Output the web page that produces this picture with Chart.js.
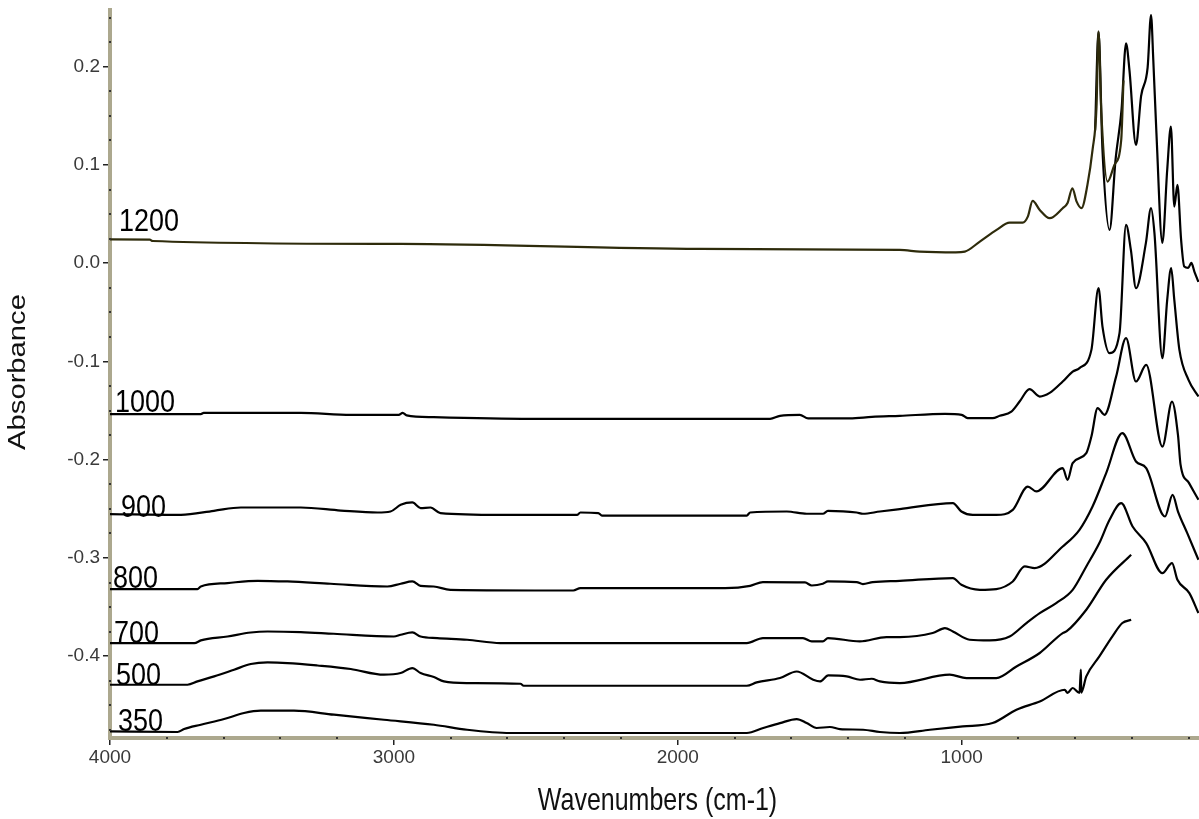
<!DOCTYPE html>
<html>
<head>
<meta charset="utf-8">
<title>IR spectra</title>
<script src="https://cdn.jsdelivr.net/npm/chart.js@4.4.1/dist/chart.umd.min.js"></script>
<style>
html,body{margin:0;padding:0;background:#fff}
#wrap{width:1199px;height:819px;position:relative}
</style>
</head>
<body>
<div id="wrap"><canvas id="ir"></canvas></div>
<script>

// spectra: wavenumber (cm-1) / absorbance
const seriesNames=["1200","1000","900","800","700","500","350"]

const wn1200=[4000,3860,3850,2976,1921,1218,1148,1021,989,936,877,831,785,767,750,725,690,644,627,610,595,578,557,539,525,518,508,486,462,438,430]
const ab1200=[0.0242,0.0240,0.0226,0.0196,0.0145,0.0135,0.0118,0.0110,0.0118,0.0220,0.0339,0.0413,0.0413,0.0474,0.0634,0.0542,0.0458,0.0560,0.0613,0.0763,0.0627,0.0560,0.0797,0.1153,0.1593,0.2356,0.1529,0.0830,0.1000,0.1254,0.1860]

// far-IR part of the 1200 sample, drawn over the end of the mid-IR trace
const wn1200far=[530,518,504,479,458,437,421,409,386,368,345,333,325,314,293,276,263,251,240,227,216,202,191,180,166]
const ab1200far=[0.135,0.2356,0.1153,0.0339,0.1052,0.1559,0.2238,0.1966,0.1203,0.170,0.199,0.2526,0.2068,0.1326,0.0207,0.0949,0.1390,0.0576,0.0797,0.0237,-0.0034,-0.0048,0.0003,-0.0088,-0.0190]

const wn1000=[4000,3680,3670,3328,3152,2983,2969,2955,2860,2519,1675,1640,1570,1541,1394,1316,1218,1059,1000,979,891,866,825,796,761,725,690,644,609,585,543,518,504,479,444,421,404,386,351,333,321,293,276,262,251,233,201,166]
const ab1000=[-0.1536,-0.1536,-0.1523,-0.1523,-0.1543,-0.1543,-0.1523,-0.1548,-0.1567,-0.1584,-0.1584,-0.1553,-0.1543,-0.1579,-0.1579,-0.1564,-0.1553,-0.1533,-0.1543,-0.1577,-0.1577,-0.1553,-0.1510,-0.1408,-0.1282,-0.1357,-0.1320,-0.1204,-0.1103,-0.1068,-0.0882,-0.0254,-0.0645,-0.0916,-0.0712,0.0390,0.0135,-0.0254,0.0207,0.0560,0.0308,-0.0966,-0.0373,-0.0051,-0.0373,-0.0882,-0.1187,-0.1357]

const wn900=[4000,3750,3634,3539,3328,3187,3058,3012,2976,2935,2906,2871,2836,2625,2355,2343,2280,2267,1757,1745,1616,1546,1489,1471,1370,1348,1288,1218,1031,1001,961,878,820,767,737,644,627,609,561,543,521,497,456,421,386,350,293,259,238,229,199,166]
const ab900=[-0.2553,-0.2561,-0.2520,-0.2486,-0.2486,-0.2517,-0.2537,-0.2527,-0.2459,-0.2435,-0.2492,-0.2486,-0.2543,-0.2561,-0.2561,-0.2537,-0.2543,-0.2568,-0.2568,-0.2537,-0.2527,-0.2550,-0.2550,-0.2520,-0.2537,-0.2550,-0.2527,-0.2503,-0.2441,-0.2527,-0.2561,-0.2561,-0.2510,-0.2273,-0.2323,-0.2085,-0.2205,-0.2035,-0.1933,-0.1764,-0.1475,-0.1543,-0.1154,-0.0763,-0.1204,-0.1035,-0.1866,-0.1408,-0.1750,-0.2050,-0.2238,-0.2408]

const wn800=[4000,3692,3680,3586,3480,3375,3223,3023,2976,2935,2906,2860,2801,2368,2343,1833,1745,1700,1552,1528,1489,1471,1370,1348,1313,1218,1031,1001,936,878,820,778,743,644,585,539,491,434,386,350,284,257,238,205,166]
const ab800=[-0.3316,-0.3316,-0.3290,-0.3255,-0.3232,-0.3239,-0.3262,-0.3290,-0.3262,-0.3239,-0.3283,-0.3290,-0.3324,-0.3331,-0.3306,-0.3306,-0.3283,-0.3245,-0.3249,-0.3280,-0.3262,-0.3239,-0.3245,-0.3266,-0.3245,-0.3232,-0.3204,-0.3273,-0.3324,-0.3316,-0.3239,-0.3086,-0.3103,-0.2883,-0.2713,-0.2476,-0.2136,-0.1729,-0.2018,-0.2085,-0.2578,-0.2357,-0.2527,-0.2750,-0.3018]

const wn700=[4000,3703,3680,3586,3504,3445,3328,3212,3000,2976,2935,2906,2847,2742,2625,1757,1700,1559,1528,1489,1471,1359,1265,1218,1102,1059,1031,972,901,831,772,725,667,609,561,515,479,438,398,350,293,259,240,198,166]
const ab700=[-0.3866,-0.3866,-0.3839,-0.3799,-0.3758,-0.3748,-0.3754,-0.3771,-0.3799,-0.3781,-0.3758,-0.3799,-0.3815,-0.3832,-0.3866,-0.3866,-0.3815,-0.3815,-0.3849,-0.3849,-0.3815,-0.3849,-0.3805,-0.3805,-0.3764,-0.3713,-0.3748,-0.3832,-0.3839,-0.3799,-0.3662,-0.3561,-0.3459,-0.3324,-0.3086,-0.2848,-0.2611,-0.2442,-0.2680,-0.2848,-0.3154,-0.3052,-0.3222,-0.3357,-0.3561]

const wn500=[4000,3727,3692,3633,3563,3504,3445,3375,3269,3152,3035,2976,2935,2906,2859,2824,2742,2554,2543,1757,1722,1640,1581,1523,1499,1470,1405,1358,1317,1288,1218,1042,983,878,807,725,644,631,561,491,403]
const ab500=[-0.4290,-0.4290,-0.4256,-0.4205,-0.4137,-0.4079,-0.4063,-0.4069,-0.4094,-0.4130,-0.4188,-0.4171,-0.4120,-0.4171,-0.4212,-0.4256,-0.4273,-0.4280,-0.4300,-0.4300,-0.4266,-0.4222,-0.4155,-0.4239,-0.4256,-0.4195,-0.4205,-0.4239,-0.4229,-0.4256,-0.4273,-0.4188,-0.4222,-0.4222,-0.4104,-0.3967,-0.3764,-0.3748,-0.3527,-0.3222,-0.2967]

const wn350=[4000,3762,3739,3680,3598,3528,3469,3352,3211,3035,2859,2742,2590,1757,1699,1640,1581,1546,1511,1464,1429,1347,1288,1218,1112,996,891,807,725,637,627,609,585,580,579,561,515,469,434,403]
const ab350=[-0.4765,-0.4771,-0.4741,-0.4697,-0.4639,-0.4578,-0.4554,-0.4554,-0.4595,-0.4646,-0.4697,-0.4748,-0.4781,-0.4781,-0.4730,-0.4680,-0.4639,-0.4680,-0.4730,-0.4720,-0.4741,-0.4748,-0.4771,-0.4781,-0.4748,-0.4714,-0.4680,-0.4544,-0.4460,-0.4341,-0.4374,-0.4323,-0.4374,-0.4137,-0.4371,-0.4205,-0.4002,-0.3798,-0.3662,-0.3629]

// axis range and ticks
const xMin=164, xMax=4000, xStep=200, xLabelEvery=1000
const yMin=-0.4832, yMax=0.2577, yStep=25   // y step in thousandths

const xTickValues=[]
for(let v=xStep;v<=xMax;v+=xStep) xTickValues.push(v)
const yTickValues=[]
for(let k=-19;k<=10;k++) yTickValues.push(k*yStep/1000)

// nudges of the sample names from the start of each trace (px)
const labelDx=[9,5,11,3,4,6,8]
const labelDy=[-8,-2,3,-1,0,0,0]

const font="'Liberation Sans', Arial, sans-serif"
const axisColor="#aca88e"

function pts(wn,ab){
return wn.map((w,i)=>({x:w,y:ab[i]}))
}

function majorX(v){ return Math.round(v)%xLabelEvery===0 }
function majorY(v){ return Math.abs(v*10-Math.round(v*10))<1e-6 }

const traces=[
[wn1200,ab1200,"#2e2b0b"],
[wn1000,ab1000,"#000"],
[wn900,ab900,"#000"],
[wn800,ab800,"#000"],
[wn700,ab700,"#000"],
[wn500,ab500,"#000"],
[wn350,ab350,"#000"],
[wn1200far,ab1200far,"#000"]
]

const datasets=traces.map(t=>({
data:pts(t[0],t[1]),
borderColor:t[2],
borderWidth:2.2,
pointRadius:0,
fill:false,
cubicInterpolationMode:"monotone"
}))

// little dark dots where the minor ticks sit on the axis
const axisDots={
id:"axisDots",
afterDraw(chart){
const ctx=chart.ctx
const xs=chart.scales.x
const ys=chart.scales.y
ctx.save()
ctx.fillStyle="#333"
xs.ticks.forEach(t=>{
if(majorX(t.value)) return
const px=Math.round(xs.getPixelForValue(t.value))
ctx.fillRect(px-1,xs.top-1,2,2)
})
ys.ticks.forEach(t=>{
if(majorY(t.value)) return
const py=Math.round(ys.getPixelForValue(t.value))
ctx.fillRect(ys.right-1,py-1,2,2)
})
ctx.restore()
}
}

// sample names at the start of each trace, and the two axis titles
const textLayer={
id:"textLayer",
afterDatasetsDraw(chart){
const ctx=chart.ctx
const area=chart.chartArea
ctx.save()
ctx.fillStyle="#000"
ctx.textAlign="left"
ctx.textBaseline="alphabetic"
ctx.font="27px "+font
seriesNames.forEach((name,i)=>{
const p=chart.getDatasetMeta(i).data[0]
ctx.save()
ctx.translate(p.x+labelDx[i],p.y+labelDy[i])
ctx.scale(1,1.15)
ctx.fillText(name,0,0)
ctx.restore()
})

ctx.fillStyle="#111"
ctx.font="25px "+font
ctx.textAlign="center"
ctx.save()
ctx.translate((area.left+area.right)/2+3,810)
ctx.scale(1,1.22)
ctx.fillText("Wavenumbers (cm-1)",0,0)
ctx.restore()

ctx.save()
ctx.translate(25,372)
ctx.rotate(-Math.PI/2)
ctx.scale(1.27,1)
ctx.font="23px "+font
ctx.fillText("Absorbance",0,0)
ctx.restore()
ctx.restore()
}
}

new Chart(document.getElementById("ir"),{
type:"line",
data:{datasets:datasets},
options:{
responsive:true,
maintainAspectRatio:false,
devicePixelRatio:1,
animation:false,
events:[],
layout:{padding:{top:10,left:0,right:0,bottom:0}},
plugins:{legend:{display:false},tooltip:{enabled:false}},
scales:{
x:{
type:"linear",
reverse:true,
min:xMin,
max:xMax,
border:{display:true,color:axisColor,width:4},
grid:{
drawOnChartArea:false,
tickLength:7,
lineWidth:1.5,
color:c=>majorX(c.tick.value)?"#222":"rgba(0,0,0,0)"
},
ticks:{
autoSkip:false,
maxRotation:0,
padding:1,
color:"#3a3a3a",
font:{family:font,size:19},
callback:v=>majorX(v)?String(Math.round(v)):""
},
afterBuildTicks(s){ s.ticks=xTickValues.map(v=>({value:v})) },
afterFit(s){ s.height=81; s.paddingLeft=0; s.paddingRight=0 }
},
y:{
type:"linear",
min:yMin,
max:yMax,
border:{display:true,color:axisColor,width:4},
grid:{
drawOnChartArea:false,
tickLength:7,
lineWidth:1.5,
color:c=>majorY(c.tick.value)?"#222":"rgba(0,0,0,0)"
},
ticks:{
autoSkip:false,
padding:3,
color:"#3a3a3a",
font:{family:font,size:19},
callback:v=>majorY(v)?(Math.round(v*10)/10).toFixed(1):""
},
afterBuildTicks(s){ s.ticks=yTickValues.map(v=>({value:v})) },
afterFit(s){ s.width=110; s.paddingTop=0; s.paddingBottom=0 }
}
}
},
plugins:[axisDots,textLayer]
})

</script>
</body>
</html>
